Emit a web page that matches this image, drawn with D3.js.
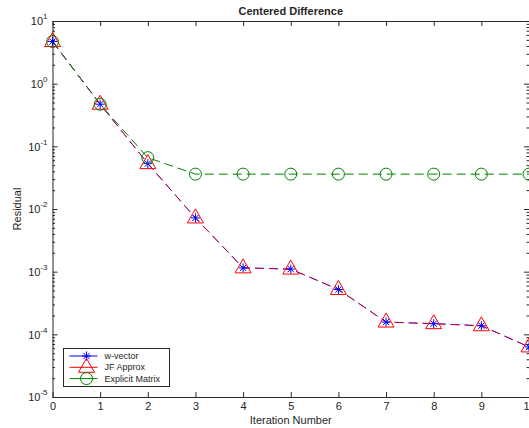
<!DOCTYPE html>
<html>
<head>
<meta charset="utf-8">
<script src="https://cdn.jsdelivr.net/npm/d3@7"></script>
<style>
  body { margin: 0; background: #fff; }
  text { font-family: "Liberation Sans", Arial, sans-serif; fill: #262626; }
</style>
</head>
<body>
<div id="chart"></div>
<script>
// iterations and residuals
var iterations = [0, 1, 2, 3, 4, 5, 6, 7, 8, 9, 10];
var wVector = [4.7, 0.47, 0.053, 0.0072, 0.00115, 0.0011, 0.00052, 0.000157, 0.000148, 0.000137, 0.000063];
var jfApprox = [4.7, 0.47, 0.053, 0.0072, 0.00115, 0.0011, 0.00052, 0.000157, 0.000148, 0.000137, 0.000063];
var explicitMatrix = [4.7, 0.47, 0.066, 0.036, 0.036, 0.036, 0.036, 0.036, 0.036, 0.036, 0.036];
var xTicks = [0, 1, 2, 3, 4, 5, 6, 7, 8, 9, 10];
var yExponents = [-5, -4, -3, -2, -1, 0, 1];
var seriesNames = ["w-vector", "JF Approx", "Explicit Matrix"];

var W = 529, H = 428;
var margin = { top: 21, right: 0, bottom: 31, left: 52.5 };
var width = 529 - margin.left,
  height = H - margin.top - margin.bottom;

var svg = d3.select("#chart")
  .append("svg")
  .attr("width", W)
  .attr("height", H);
var g = svg.append("g")
  .attr("transform", "translate(" + margin.left + "," + margin.top + ")");

var x = d3.scaleLinear().domain([0, 10]).range([0, width]);
var y = d3.scaleLog().domain([1e-5, 10]).range([height, 0]);

var majors = yExponents.map(function (e) { return Math.pow(10, e); });
var minors = [];
yExponents.slice(0, -1).forEach(function (e) {
  for (var k = 2; k <= 9; k++) minors.push(k * Math.pow(10, e));
});

function styleAxis(sel) {
  sel.select(".domain").attr("stroke", "#262626").attr("stroke-width", 1);
  sel.selectAll(".tick line").attr("stroke", "#262626").attr("stroke-width", 1);
}

// bottom axis with labels, top axis without
var xAxis = g.append("g")
  .attr("transform", "translate(0," + height + ")")
  .call(d3.axisBottom(x).tickValues(xTicks).tickSizeInner(-5).tickSizeOuter(0).tickPadding(5).tickFormat(d3.format("d")));
xAxis.selectAll("text").attr("font-size", 11).attr("fill", "#262626");
styleAxis(xAxis);

var xTop = g.append("g")
  .call(d3.axisTop(x).tickValues(xTicks).tickSizeInner(-5).tickSizeOuter(0).tickFormat(""));
styleAxis(xTop);

// left axis: majors with 10^n labels, then minors
var yAxis = g.append("g")
  .call(d3.axisLeft(y).tickValues(majors).tickSizeInner(-5).tickSizeOuter(0).tickFormat(""));
styleAxis(yAxis);
yAxis.selectAll(".tick").each(function (d) {
  var t = d3.select(this).append("text")
    .attr("x", -5)
    .attr("dy", "0.35em")
    .attr("text-anchor", "end")
    .attr("font-size", 11)
    .attr("fill", "#262626");
  t.append("tspan").text("10");
  t.append("tspan")
    .attr("font-size", 8)
    .attr("dy", "-0.75em")
    .text(Math.round(Math.log10(d)));
});
var yMinor = g.append("g")
  .call(d3.axisLeft(y).tickValues(minors).tickSizeInner(-2.5).tickSizeOuter(0).tickFormat(""));
yMinor.select(".domain").remove();
styleAxis(yMinor);

var yRight = g.append("g")
  .attr("transform", "translate(" + width + ",0)")
  .call(d3.axisRight(y).tickValues(majors).tickSizeInner(-5).tickSizeOuter(0).tickFormat(""));
styleAxis(yRight);
var yRightMinor = g.append("g")
  .attr("transform", "translate(" + width + ",0)")
  .call(d3.axisRight(y).tickValues(minors).tickSizeInner(-2.5).tickSizeOuter(0).tickFormat(""));
yRightMinor.select(".domain").remove();
styleAxis(yRightMinor);

// lines
var line = d3.line()
  .x(function (d) { return x(d[0]); })
  .y(function (d) { return y(d[1]); });

function pairs(vals) { return iterations.map(function (it, i) { return [it, vals[i]]; }); }

var series = [
  { name: seriesNames[0], vals: wVector, color: "#0000ff", marker: "star" },
  { name: seriesNames[1], vals: jfApprox, color: "#ff0000", marker: "tri" },
  { name: seriesNames[2], vals: explicitMatrix, color: "#008000", marker: "circ" }
];

var plot = g.append("g");

series.forEach(function (s, i) {
  plot.append("path")
    .datum(pairs(s.vals))
    .attr("d", line)
    .attr("fill", "none")
    .attr("stroke", s.color)
    .attr("stroke-width", 1)
    .attr("stroke-opacity", i == 1 ? 0.75 : 1)
    .attr("stroke-dasharray", "9,5");
});

function drawMarker(sel, type, color) {
  if (type == "star") {
    var r = 4.5, q = r * 0.7;
    sel.append("path")
      .attr("d", "M" + (-r) + ",0H" + r + "M0," + (-r) + "V" + r +
        "M" + (-q) + "," + (-q) + "L" + q + "," + q + "M" + (-q) + "," + q + "L" + q + "," + (-q))
      .attr("stroke", color).attr("stroke-width", 1).attr("fill", "none");
  } else if (type == "tri") {
    sel.append("path")
      .attr("d", "M0,-9L8,5L-8,5Z")
      .attr("stroke", color).attr("stroke-width", 1).attr("fill", "none");
  } else {
    sel.append("circle")
      .attr("r", 6)
      .attr("stroke", color).attr("stroke-width", 1).attr("fill", "none");
  }
}

series.forEach(function (s) {
  plot.selectAll(null)
    .data(pairs(s.vals))
    .enter()
    .append("g")
    .attr("transform", function (d) { return "translate(" + x(d[0]) + "," + y(d[1]) + ")"; })
    .each(function () { drawMarker(d3.select(this), s.marker, s.color); });
});

// title and axis labels
svg.append("text")
  .attr("x", margin.left + width / 2)
  .attr("y", 15)
  .attr("text-anchor", "middle")
  .attr("font-size", 11)
  .attr("font-weight", "bold")
  .attr("fill", "#000")
  .text("Centered Difference");

svg.append("text")
  .attr("x", margin.left + width / 2)
  .attr("y", 424)
  .attr("text-anchor", "middle")
  .attr("font-size", 11)
  .text("Iteration Number");

svg.append("text")
  .attr("transform", "translate(21," + (margin.top + height / 2) + ") rotate(-90)")
  .attr("text-anchor", "middle")
  .attr("font-size", 11)
  .text("Residual");

// legend
var legend = svg.append("g").attr("transform", "translate(63.5,348.5)");
legend.append("rect")
  .attr("width", 106)
  .attr("height", 38)
  .attr("fill", "#fff")
  .attr("stroke", "#262626")
  .attr("stroke-width", 1);
series.forEach(function (s, i) {
  var row = legend.append("g").attr("transform", "translate(0," + (7.5 + i * 11.3) + ")");
  row.append("line")
    .attr("x1", 6).attr("x2", 34)
    .attr("stroke", s.color).attr("stroke-width", 1);
  drawMarker(row.append("g").attr("transform", "translate(23,0)"), s.marker, s.color);
  row.append("text")
    .attr("x", 41)
    .attr("dy", "0.35em")
    .attr("font-size", 9)
    .attr("fill", "#000")
    .text(s.name);
});
</script>
</body>
</html>
